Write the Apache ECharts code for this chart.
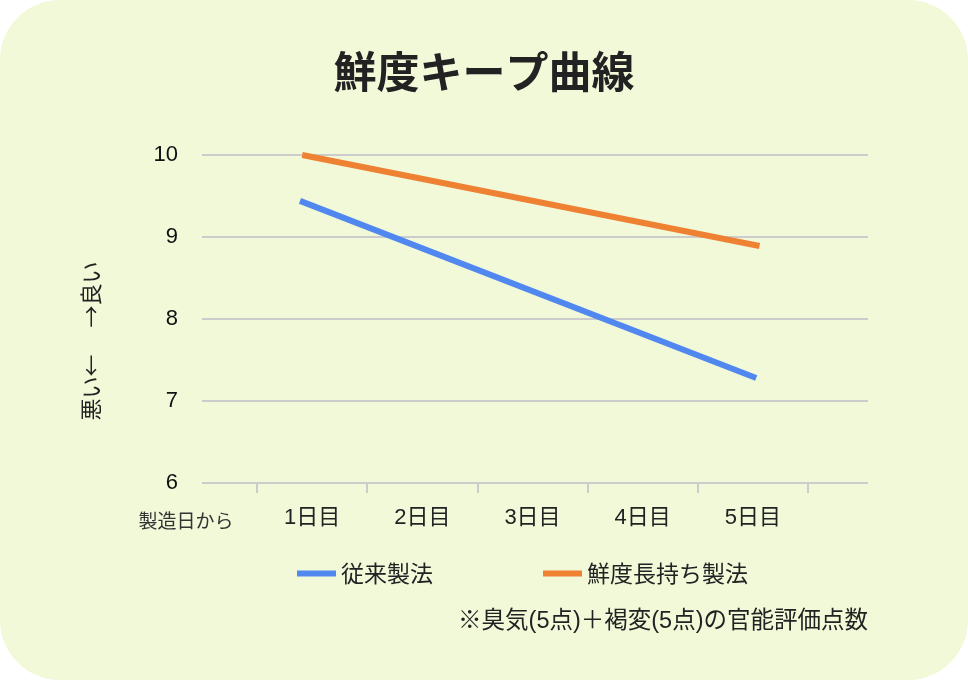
<!DOCTYPE html>
<html>
<head>
<meta charset="utf-8">
<script src="https://cdn.jsdelivr.net/npm/echarts@6/dist/echarts.min.js"></script>
<style>
html,body{margin:0;padding:0;background:#ffffff;}
#c{width:968px;height:680px;}
</style>
</head>
<body>
<div id="c"></div>
<script>
var titleText = '鮮度キープ曲線';
var days = ['1日目', '2日目', '3日目', '4日目', '5日目'];
var yTicks = [6, 7, 8, 9, 10];
var seriesNames = ['従来製法', '鮮度長持ち製法'];
var conventionalX = [0.89, 5.03];
var conventionalY = [9.44, 7.28];
var longLastingX = [0.91, 5.06];
var longLastingY = [10.0, 8.89];
var yAxisTitle = '悪い← 　→良い';
var xAxisTitle = '製造日から';
var footnote = '※臭気(5点)＋褐変(5点)の官能評価点数';

var FONT = '"Liberation Sans", Arial, "Noto Sans CJK JP", sans-serif';
var CJK = '"Noto Sans CJK JP", sans-serif';

function pairs(xs, ys) {
  return xs.map(function (x, i) { return [x, ys[i]]; });
}

var chart = echarts.init(document.getElementById('c'), null, {renderer: 'canvas'});
chart.setOption({
  animation: false,
  backgroundColor: 'transparent',
  textStyle: {fontFamily: FONT},
  title: {
    text: titleText,
    left: 'center',
    top: 45,
    textStyle: {fontFamily: CJK, fontSize: 43, fontWeight: 'bold', color: '#222222'}
  },
  graphic: [
    {type: 'rect', z: -10, silent: true,
     shape: {x: 0, y: 0, width: 968, height: 680, r: 60},
     style: {fill: '#f1f9d9'}},
    {type: 'text', x: 91, y: 341, rotation: Math.PI / 2,
     style: {text: yAxisTitle, fontFamily: CJK, fontSize: 22, fill: '#222222',
             align: 'center', verticalAlign: 'middle'}},
    {type: 'text', x: 186, y: 521,
     style: {text: xAxisTitle, fontFamily: CJK, fontSize: 19, fill: '#333333',
             align: 'center', verticalAlign: 'middle'}},
    {type: 'text', x: 868, y: 622,
     style: {text: footnote, fontFamily: FONT, fontSize: 23.5, fill: '#222222',
             align: 'right', verticalAlign: 'middle'}}
  ],
  legend: {
    left: 292,
    top: 557,
    itemWidth: 39,
    itemHeight: 6,
    itemGap: 110,
    icon: 'rect',
    data: seriesNames,
    textStyle: {fontFamily: CJK, fontSize: 23, color: '#222222'}
  },
  grid: [
    {left: 202, right: 100, top: 155, bottom: 197},
    {left: 257, width: 551, top: 155, height: 328}
  ],
  xAxis: [
    {type: 'value', gridIndex: 0, show: false, min: 0, max: 1},
    {type: 'category', gridIndex: 1, data: days, boundaryGap: true,
     axisLine: {show: false},
     axisTick: {show: true, length: 10, lineStyle: {color: '#cccccc', width: 2}},
     axisLabel: {fontSize: 22, color: '#222222', margin: 24, fontFamily: FONT},
     splitLine: {show: false}},
    {type: 'value', gridIndex: 1, min: 0.5, max: 5.5, show: false}
  ],
  yAxis: [
    {type: 'value', gridIndex: 0, min: yTicks[0], max: yTicks[yTicks.length - 1], interval: 1,
     axisLine: {show: false}, axisTick: {show: false},
     axisLabel: {fontSize: 22, color: '#111111', margin: 24, fontFamily: FONT},
     splitLine: {show: true, lineStyle: {color: '#cccccc', width: 2}}},
    {type: 'value', gridIndex: 1, min: yTicks[0], max: yTicks[yTicks.length - 1], show: false}
  ],
  series: [
    {name: seriesNames[0], type: 'line', xAxisIndex: 2, yAxisIndex: 1,
     data: pairs(conventionalX, conventionalY), showSymbol: false, symbol: 'none',
     itemStyle: {color: '#5088f0'},
     lineStyle: {color: '#5088f0', width: 6, cap: 'butt'}},
    {name: seriesNames[1], type: 'line', xAxisIndex: 2, yAxisIndex: 1,
     data: pairs(longLastingX, longLastingY), showSymbol: false, symbol: 'none',
     itemStyle: {color: '#ef8133'},
     lineStyle: {color: '#ef8133', width: 6, cap: 'butt'}}
  ]
});
</script>
</body>
</html>
